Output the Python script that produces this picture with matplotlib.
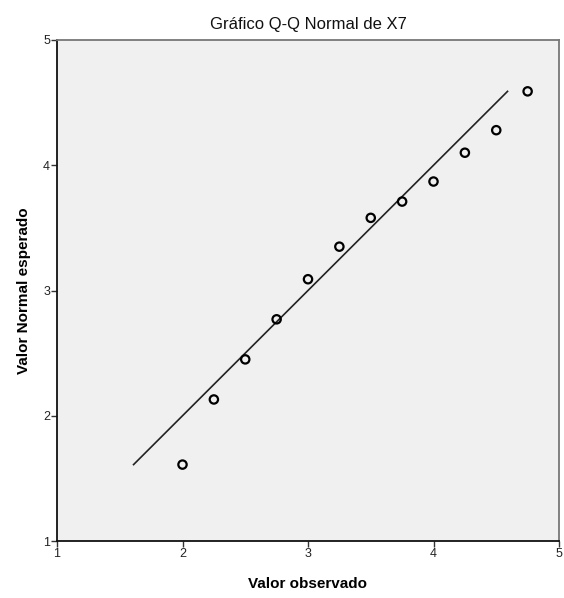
import matplotlib
matplotlib.use('Agg')
import matplotlib.pyplot as plt
import numpy as np

plt.rcParams['font.family'] = ['Liberation Sans', 'DejaVu Sans']

# observed values and expected normal values
observado = [2.0, 2.25, 2.5, 2.75, 3.0, 3.25, 3.5, 3.75, 4.0, 4.25, 4.5, 4.75]
esperado = [1.61, 2.13, 2.45, 2.77, 3.09, 3.35, 3.58, 3.71, 3.87, 4.10, 4.28, 4.59]
ticks = [1, 2, 3, 4, 5]

fig = plt.figure(figsize=(5.64, 5.98), dpi=100)
ax = fig.add_axes([57/564, 1-541/598, 502/564, 501/598])
ax.set_facecolor('#f0f0f0')

# reference line y = x across the range of expected values
lo, hi = min(esperado), max(esperado)
ax.plot([lo, hi], [lo, hi], color='#222222', lw=1.2)
ax.scatter(observado, esperado, s=36, facecolors='none', edgecolors='black', linewidths=1.6, zorder=3)

ax.set_xlim(1, 5)
ax.set_ylim(1, 5)
ax.set_xticks(ticks)
ax.set_yticks(ticks)
ax.tick_params(labelsize=9, length=4, width=1, color='#333333', pad=1, labelcolor='#222222')
ax.spines['left'].set_color('#111111')
ax.spines['bottom'].set_color('#111111')
ax.spines['top'].set_color('#777777')
ax.spines['right'].set_color('#777777')
for s in ax.spines.values():
    s.set_linewidth(1.3)

ax.set_title('Gráfico Q-Q Normal de X7', fontsize=12, pad=8, color='#111111')
ax.set_xlabel('Valor observado', fontsize=11, fontweight='bold', labelpad=12)
ax.set_ylabel('Valor Normal esperado', fontsize=11, fontweight='bold', labelpad=9)

fig.savefig('out.png', dpi=100)
